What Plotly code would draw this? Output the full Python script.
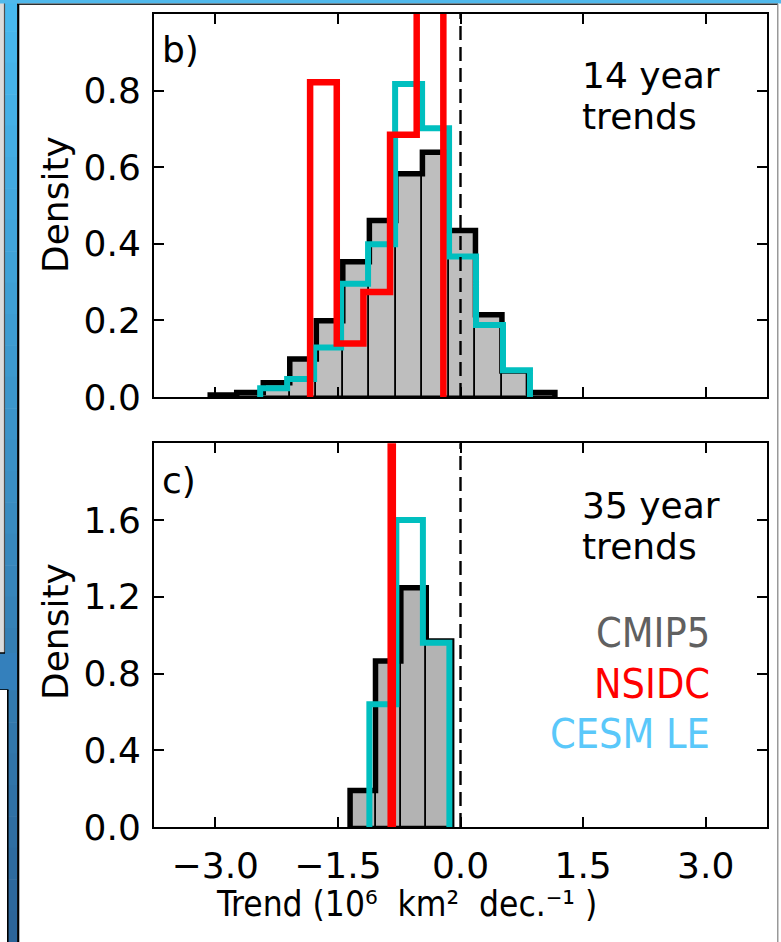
import plotly.graph_objects as go

# ---- 14-year trend distributions (density); bin edges in 10^6 km^2 per decade ----
cmip5_14_edges = [-3.062, -2.738, -2.413, -2.089, -1.764, -1.440, -1.115,
                  -0.791, -0.466, -0.142, 0.183, 0.507, 0.831, 1.155]
cmip5_14_dens = [0.005, 0.012, 0.037, 0.099, 0.199, 0.353, 0.461,
                 0.583, 0.639, 0.435, 0.215, 0.068, 0.012]

cesm_14_edges = [-2.451, -2.121, -1.791, -1.461, -1.131, -0.800,
                 -0.470, -0.140, 0.190, 0.520, 0.850]
cesm_14_dens = [0.023, 0.047, 0.129, 0.296, 0.399, 0.817, 0.702, 0.367, 0.188, 0.070]

nsidc_14_edges = [-1.840, -1.514, -1.188, -0.862, -0.536, -0.210]
nsidc_14_dens = [0.822, 0.140, 0.274, 0.685, 1.120]

# ---- 35-year trend distributions ----
cmip5_35_edges = [-1.351, -1.040, -0.730, -0.419, -0.108]
cmip5_35_dens = [0.190, 0.865, 1.247, 0.969]

cesm_35_edges = [-1.115, -0.785, -0.460, -0.136]
cesm_35_dens = [0.64, 1.60, 0.96]

nsidc_35_edges = [-0.854, -0.828]
nsidc_35_dens = [40.0]

# ---- axis ticks ----
x_tickvals = [-3.0, -1.5, 0.0, 1.5, 3.0]
x_ticktext = ["\u22123.0", "\u22121.5", "0.0", "1.5", "3.0"]
y14_tickvals = [0.0, 0.2, 0.4, 0.6, 0.8]
y14_ticktext = ["0.0", "0.2", "0.4", "0.6", "0.8"]
y35_tickvals = [0.0, 0.4, 0.8, 1.2, 1.6]
y35_ticktext = ["0.0", "0.4", "0.8", "1.2", "1.6"]

legend_names = ["CMIP5", "NSIDC", "CESM LE"]
legend_colors = ["#606060", "#ff0000", "#5ac8fa"]

GRAY_TOP = "#bebebe"
GRAY_BOT = "#b3b3b3"
CYAN = "#00bfbf"
RED = "#ff0000"
FONT = "DejaVu Sans"
NARROW = "Liberation Sans Narrow, Arial Narrow, DejaVu Sans Condensed, sans-serif"

W, H = 781, 942
ML, MR, MT, MB = 154, 14, 14, 115
PW, PH = W - ML - MR, H - MT - MB


def step_xy(edges, dens):
    xs, ys = [edges[0]], [0.0]
    for i, d in enumerate(dens):
        xs += [edges[i], edges[i + 1]]
        ys += [d, d]
    xs.append(edges[-1])
    ys.append(0.0)
    return xs, ys


def bars(edges, dens, color, xa, ya):
    centers = [(edges[i] + edges[i + 1]) / 2 for i in range(len(dens))]
    widths = [edges[i + 1] - edges[i] for i in range(len(dens))]
    return go.Bar(x=centers, y=dens, width=widths, marker=dict(color=color,
                  line=dict(color="black", width=1.6)), xaxis=xa, yaxis=ya,
                  showlegend=False, hoverinfo="skip")


def step(edges, dens, color, lw, xa, ya):
    xs, ys = step_xy(edges, dens)
    return go.Scatter(x=xs, y=ys, mode="lines", line=dict(color=color, width=lw),
                      xaxis=xa, yaxis=ya, showlegend=False, hoverinfo="skip")


fig = go.Figure()
# top panel: 14-year trends
fig.add_trace(bars(cmip5_14_edges, cmip5_14_dens, GRAY_TOP, "x", "y"))
fig.add_trace(step(cmip5_14_edges, cmip5_14_dens, "black", 5.5, "x", "y"))
fig.add_trace(step(cesm_14_edges, cesm_14_dens, CYAN, 6, "x", "y"))
fig.add_trace(step(nsidc_14_edges, nsidc_14_dens, RED, 6.5, "x", "y"))
# bottom panel: 35-year trends
fig.add_trace(bars(cmip5_35_edges, cmip5_35_dens, GRAY_BOT, "x2", "y2"))
fig.add_trace(step(cmip5_35_edges, cmip5_35_dens, "black", 5.5, "x2", "y2"))
fig.add_trace(step(cesm_35_edges, cesm_35_dens, CYAN, 6, "x2", "y2"))
fig.add_trace(step(nsidc_35_edges, nsidc_35_dens, RED, 6.5, "x2", "y2"))

axis_common = dict(ticks="inside", ticklen=10, tickwidth=1.5, tickcolor="black",
                   showline=True, linewidth=2, linecolor="black", mirror="ticks",
                   showgrid=False, zeroline=False,
                   tickfont=dict(family=FONT, size=36, color="black"))

top_dom = [1 - (397 - MT) / PH, 1.0]
bot_dom = [0.0, (MT + PH - 443.3) / PH]

fig.update_layout(
    width=W, height=H,
    margin=dict(l=ML, r=MR, t=MT, b=MB, pad=0),
    paper_bgcolor="white", plot_bgcolor="white",
    barmode="overlay", bargap=0,
    xaxis=dict(domain=[0, 1], anchor="y", range=[-3.75, 3.75], tickvals=x_tickvals,
               showticklabels=False, **axis_common),
    yaxis=dict(domain=top_dom, anchor="x", range=[0, 1.0], tickvals=y14_tickvals,
               ticktext=y14_ticktext, ticklabelstandoff=4, **axis_common),
    xaxis2=dict(domain=[0, 1], anchor="y2", range=[-3.75, 3.75], tickvals=x_tickvals,
                ticktext=x_ticktext, ticklabelstandoff=6, **axis_common),
    yaxis2=dict(domain=bot_dom, anchor="x2", range=[0, 2.0], tickvals=y35_tickvals,
                ticktext=y35_ticktext, ticklabelstandoff=4, **axis_common),
)

# zero reference lines
for ya in ("y", "y2"):
    fig.add_shape(type="line", xref="x" if ya == "y" else "x2", yref=ya + " domain",
                  x0=0, x1=0, y0=0, y1=1, line=dict(color="black", width=2.4, dash="14px,7px"))

txt = dict(family=FONT, size=36, color="black")


def ann(text, x, y, xref, yref, xanchor="left", yanchor="middle", font=txt, **kw):
    fig.add_annotation(text=text, x=x, y=y, xref=xref, yref=yref, xanchor=xanchor,
                       yanchor=yanchor, showarrow=False, font=font, borderpad=0, **kw)


# panel labels and period labels
ann("b)", -3.66, 0.907, "x", "y")
ann("14 year", 1.47, 0.839, "x", "y")
ann("trends", 1.47, 0.732, "x", "y")
ann("c)", -3.66, 1.806, "x2", "y2")
ann("35 year", 1.47, 1.677, "x2", "y2")
ann("trends", 1.47, 1.462, "x2", "y2")

# coloured source labels
for name, col, yv in zip(legend_names, legend_colors, [1.009, 0.743, 0.483]):
    ann(name, 3.06, yv, "x2", "y2", xanchor="right",
        font=dict(family=NARROW, size=41, color=col))


# axis titles
def px_to_paper_x(px):
    return (px - ML) / PW


def px_to_paper_y(py):
    return (MT + PH - py) / PH


ann("Density", px_to_paper_x(55), px_to_paper_y(205), "paper", "paper",
    xanchor="center", textangle=-90)
ann("Density", px_to_paper_x(55), px_to_paper_y(632), "paper", "paper",
    xanchor="center", textangle=-90)
ann("Trend (10\u2076\u00a0\u00a0km\u00b2\u00a0\u00a0dec.\u207b\u00b9\u00a0)",
    px_to_paper_x(406), px_to_paper_y(904), "paper", "paper", xanchor="center",
    font=dict(family=NARROW, size=35, color="black"))


# window frame around the figure
def rect(x0, y0, x1, y1, color):
    fig.add_shape(type="rect", xref="paper", yref="paper",
                  x0=px_to_paper_x(x0), x1=px_to_paper_x(x1),
                  y0=px_to_paper_y(y0), y1=px_to_paper_y(y1),
                  fillcolor=color, line=dict(width=0), layer="above")


def vline(x, y0, y1, color, w):
    fig.add_shape(type="line", xref="paper", yref="paper",
                  x0=px_to_paper_x(x), x1=px_to_paper_x(x),
                  y0=px_to_paper_y(y0), y1=px_to_paper_y(y1),
                  line=dict(color=color, width=w), layer="above")


def hline(y, x0, x1, color, w):
    fig.add_shape(type="line", xref="paper", yref="paper",
                  x0=px_to_paper_x(x0), x1=px_to_paper_x(x1),
                  y0=px_to_paper_y(y), y1=px_to_paper_y(y),
                  line=dict(color=color, width=w), layer="above")


top_rgb = (72, 186, 240)
bot_rgb = (44, 100, 152)
nb = 30
for i in range(nb):
    t = (i + 0.5) / nb
    c = tuple(int(round(a + (b - a) * t)) for a, b in zip(top_rgb, bot_rgb))
    rect(4, H * i / nb, 17.5, H * (i + 1) / nb + 0.5, "rgb(%d,%d,%d)" % c)
rect(0, 0, 4, 653, "#dcdcdc")
vline(4.5, 0, 653, "#505050", 1.2)
rect(0, 653, 17.5, 690, "rgb(52,128,188)")
hline(653, 0, 5, "black", 1.5)
hline(690, 0, 8.5, "black", 1.5)
rect(0, 690, 7, H, "white")
vline(7.8, 690, H, "black", 1.6)
rect(0, 0, W, 3.5, "rgb(80,185,236)")
hline(4.3, 17, 778, "#303030", 1.6)
vline(18.2, 4, H, "black", 2.2)
vline(777.8, 4, H, "#808080", 1.2)

fig.write_html("out.html")
